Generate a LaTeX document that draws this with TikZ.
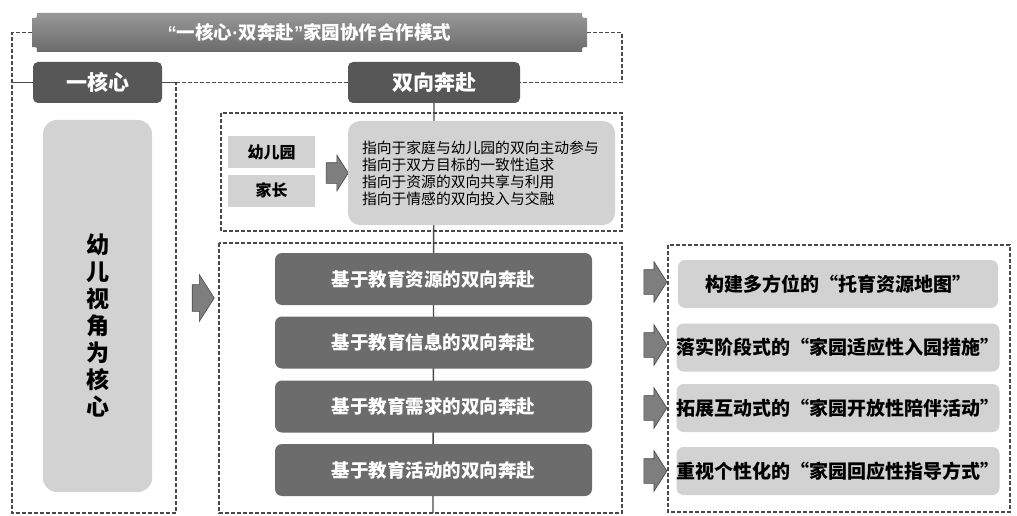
\documentclass[tikz,border=0pt]{standalone}
\usepackage{fontspec}
\setmainfont{Noto Sans CJK SC}
\newfontfamily\latinq{Liberation Sans}
\usetikzlibrary{positioning,shapes.arrows,backgrounds}

\definecolor{bannergray}{HTML}{7E7E7E}
\definecolor{coregray}{HTML}{575757}
\definecolor{waygray}{HTML}{6C6C6C}
\definecolor{lightgray}{HTML}{D2D2D2}
\definecolor{linegray}{HTML}{4A4A4A}

\tikzset{
  corebox/.style={fill=coregray, rounded corners=5pt, text=white, inner sep=0pt,
    font=\bfseries\fontsize{21}{25}\selectfont, minimum height=41pt},
  tagbox/.style={fill=lightgray, inner sep=0pt, minimum width=87pt, minimum height=32pt,
    font=\bfseries\fontsize{16}{19}\selectfont},
  goalbox/.style={fill=lightgray, rounded corners=12pt, inner xsep=14pt, inner ysep=0pt,
    minimum width=267pt, minimum height=104pt, text width=239pt, align=left,
    font=\fontsize{14.8}{17}\selectfont},
  waybox/.style={fill=waygray, rounded corners=7pt, text=white, inner sep=0pt,
    minimum width=317pt, minimum height=52pt, font=\bfseries\fontsize{18.5}{22}\selectfont},
  planbox/.style={fill=lightgray, rounded corners=7pt, inner sep=0pt,
    minimum width=320pt, minimum height=48pt, font=\bfseries\fontsize{19}{22}\selectfont},
  bigarrow/.style={single arrow, fill=bannergray, draw=linegray, line width=0.6pt,
    inner xsep=0pt, single arrow tip angle=115},
  dashline/.style={draw=linegray, line width=1.4pt, dash pattern=on 4pt off 2pt},
  solidline/.style={draw=linegray, line width=1.4pt}
}

\begin{document}
\begin{tikzpicture}[x=1pt,y=-1pt]
  \useasboundingbox (0,0) rectangle (1017,516);

  % Define the corners of the dashed frames
  \coordinate (leftTop) at (12,32.5);
  \coordinate (leftBottom) at (12,513);
  \coordinate (coreRight) at (176,82.5);
  \coordinate (coreBottom) at (176,513);
  \coordinate (rightTop) at (622,32.5);
  \coordinate (rightMid) at (622,82.5);
  \coordinate (midBottom) at (433,513);

  % Draw the banner
  \shade[top color=bannergray!80!white, bottom color=bannergray!85!black]
    (37,13) -- (582,13) .. controls (582,18) .. (587,18) -- (587,47)
    .. controls (582,47) .. (582,52) -- (37,52) .. controls (37,47) .. (32,47)
    -- (32,18) .. controls (37,18) .. (37,13) -- cycle;
  \node[inner sep=0pt, minimum width=555pt, minimum height=39pt, text=white,
    font=\bfseries\fontsize{18.5}{20}\selectfont] (title) at (309.5,32.5)
    {{\latinq “}一核心{\latinq ·}双奔赴{\latinq ”}家园协作合作模式};

  % Draw the two heads
  \node[corebox, minimum width=129pt] (core) at (97.5,82.5) {一核心};
  \node[corebox, minimum width=172pt] (two) at (434,82.5) {双向奔赴};

  % Draw the child box
  \node[fill=lightgray, rounded corners=14pt, minimum width=109pt, minimum height=372pt,
    inner sep=0pt] (child) at (97.5,306) {};
  \node[inner sep=0pt, align=center, font=\bfseries\fontsize{23}{27}\selectfont]
    (childText) at ([yshift=-19pt]child.center) {幼\\儿\\视\\角\\为\\核\\心};

  % Draw the upper frame
  \node[tagbox] (kg) at (271.5,152) {幼儿园};
  \node[tagbox] (parent) at (271.5,190.5) {家长};
  \node[bigarrow, minimum height=22pt, inner ysep=10pt, single arrow head extend=7.5pt]
    (arrUp) at (334,173) {};
  \node[goalbox] (goal) at (481.5,173) {指向于家庭与幼儿园的双向主动参与\\
    指向于双方目标的一致性追求\\指向于资源的双向共享与利用\\指向于情感的双向投入与交融};

  % Draw the four ways
  \foreach \y/\t [count=\i] in {279/资源, 342.5/信息, 406.5/需求, 470/活动}
    \node[waybox] (way\i) at (433.5,\y) {基于教育\t 的双向奔赴};

  % Draw the arrows
  \node[bigarrow, minimum height=22pt, inner ysep=13pt, single arrow head extend=10pt]
    (arrMid) at (199,298) {};
  \foreach \y [count=\i] in {282, 345, 408, 471}
    \node[bigarrow, minimum height=23pt, inner ysep=12pt, single arrow head extend=8pt]
      (arrRight\i) at (651.5,\y) {};

  % Draw the four plans
  \node[planbox] (plan1) at (838,284) {构建多方位的“托育资源地图”};
  \node[planbox] (plan2) at (838,347.5) {落实阶段式的“家园适应性入园措施”};
  \node[planbox] (plan3) at (838,408) {拓展互动式的“家园开放性陪伴活动”};
  \node[planbox] (plan4) at (838,471) {重视个性化的“家园回应性指导方式”};

  % Draw the lines
  \draw[dashline] (title.west) -- (leftTop) -- (leftBottom) -- (coreBottom) -- (coreRight);
  \draw[solidline] (12,82.5) -- (core.west);
  \draw[solidline] (core.east) -- (coreRight);
  \draw[dashline] (coreRight) -- (two.west);
  \draw[dashline] (title.east) -- (rightTop) -- (rightMid) -- (two.east);
  \begin{pgfonlayer}{background}
    \draw[solidline] (two.south) -- (midBottom);
  \end{pgfonlayer}
  \draw[dashline] (221,113) rectangle (622,231);
  \draw[dashline] (219,243) rectangle (622,513);
  \draw[dashline] (668,245) rectangle (1010,512);
\end{tikzpicture}
\end{document}
